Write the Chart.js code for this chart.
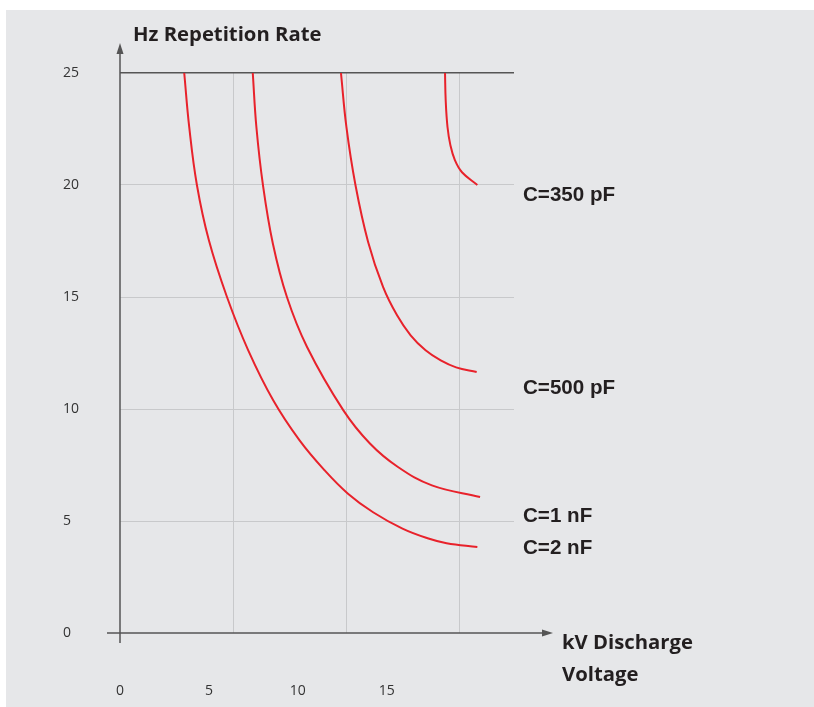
<!DOCTYPE html>
<html lang="en">
<head>
    <meta charset="UTF-8">
    <title>Repetition Rate vs Discharge Voltage</title>
    <script src="https://cdn.jsdelivr.net/npm/chart.js"></script>
    <style>
        body {
            margin: 0;
            background: #fff;
        }

        canvas {
            display: block;
        }
    </style>
</head>
<body>

    <canvas id="grafico" width="814" height="707"></canvas>

    <script>
        // curves (kV, Hz)
        const kv350 = [14.37, 14.40, 14.48, 14.61, 14.81, 15.12, 15.80];
        const hz350 = [25, 23.78, 22.59, 21.77, 21.10, 20.57, 20.0];

        const kv500 = [9.77, 10.01, 10.41, 10.97, 11.63, 12.25, 12.85, 13.51, 14.18, 14.86, 15.77];
        const hz500 = [25, 22.59, 20.0, 17.46, 15.45, 14.18, 13.29, 12.62, 12.17, 11.86, 11.65];

        const kv1n = [5.87, 6.03, 6.32, 6.76, 7.38, 8.27, 9.87, 11.05, 12.29, 13.79, 15.92];
        const hz1n = [25, 22.59, 20.0, 17.38, 15.0, 12.77, 9.95, 8.46, 7.41, 6.59, 6.07];

        const kv2n = [2.84, 3.06, 3.40, 3.93, 4.73, 5.67, 6.78, 7.94, 9.05, 10.08, 11.19, 12.49, 13.60, 14.44, 15.80];
        const hz2n = [25, 22.59, 20.0, 17.53, 15.0, 12.62, 10.38, 8.60, 7.26, 6.22, 5.39, 4.66, 4.23, 4.01, 3.84];

        const curveNames = ["C=350 pF", "C=500 pF", "C=1 nF", "C=2 nF"];
        const labelRates = [19.54, 10.92, 5.21, 3.78];
        const gridVolts = [0, 5, 10, 15];
        const bottomTickLabels = [0, 5, 10, 15];

        const yTitle = "Hz Repetition Rate";
        const xTitle = ["kV Discharge", "Voltage"];

        const vermelho = "#e8222b";
        const eixo = "#555";

        function serie(xs, ys) {
            return xs.map((x, i) => ({ x: x, y: ys[i] }));
        }

        const fundo = {
            id: "fundo",
            beforeDraw(chart) {
                const c = chart.ctx;
                c.save();
                c.fillStyle = "#fff";
                c.fillRect(0, 0, chart.width, chart.height);
                c.fillStyle = "#e6e7e9";
                c.fillRect(6, 10, chart.width - 6, chart.height - 10);
                c.restore();
            }
        };

        const eixosETextos = {
            id: "eixosETextos",
            afterDraw(chart) {
                const c = chart.ctx;
                const area = chart.chartArea;
                const x0 = chart.scales.x.getPixelForValue(0);
                const y0 = chart.scales.y.getPixelForValue(0);

                c.save();
                c.strokeStyle = eixo;
                c.fillStyle = eixo;
                c.lineWidth = 1.5;

                // x axis with arrow
                c.beginPath();
                c.moveTo(area.left - 13, y0);
                c.lineTo(545, y0);
                c.stroke();
                c.beginPath();
                c.moveTo(553, y0);
                c.lineTo(542, y0 - 3.5);
                c.lineTo(542, y0 + 3.5);
                c.closePath();
                c.fill();

                // y axis with arrow
                c.beginPath();
                c.moveTo(x0, area.bottom + 10);
                c.lineTo(x0, 53);
                c.stroke();
                c.beginPath();
                c.moveTo(x0, 43);
                c.lineTo(x0 - 3.5, 54);
                c.lineTo(x0 + 3.5, 54);
                c.closePath();
                c.fill();

                c.fillStyle = "#231f20";
                c.textBaseline = "middle";
                c.textAlign = "left";
                c.font = "bold 20.3px 'Open Sans'";
                c.fillText(yTitle, 133, 35);
                c.fillText(xTitle[0], 562, 643);
                c.fillText(xTitle[1], 562, 675);

                c.font = "bold 20.6px 'Liberation Sans'";
                curveNames.forEach((nome, i) => {
                    c.fillText(nome, area.right + 9, chart.scales.y.getPixelForValue(labelRates[i]));
                });
                c.restore();
            }
        };

        const corLinha = { borderColor: vermelho, borderWidth: 2, pointRadius: 0, showLine: true, tension: 0.4 };

        new Chart(document.getElementById("grafico"), {
            type: "scatter",
            data: {
                datasets: [
                    Object.assign({ label: curveNames[0], data: serie(kv350, hz350) }, corLinha),
                    Object.assign({ label: curveNames[1], data: serie(kv500, hz500) }, corLinha),
                    Object.assign({ label: curveNames[2], data: serie(kv1n, hz1n) }, corLinha),
                    Object.assign({ label: curveNames[3], data: serie(kv2n, hz2n) }, corLinha)
                ]
            },
            options: {
                responsive: false,
                animation: false,
                layout: { padding: { left: 63, top: 73, right: 300, bottom: 0 } },
                plugins: {
                    legend: { display: false },
                    tooltip: { enabled: false }
                },
                scales: {
                    x: {
                        type: "linear",
                        position: "bottom",
                        min: 0,
                        max: 17.42,
                        afterBuildTicks: s => {
                            s.ticks = gridVolts.map(v => ({ value: v }));
                        },
                        ticks: { display: false },
                        grid: {
                            drawTicks: false,
                            color: ctx => ctx.tick && ctx.tick.value === 0 ? "rgba(0,0,0,0)" : "#c8c9cb",
                            lineWidth: 1
                        },
                        border: { display: false },
                        afterFit: s => { s.height = 0; }
                    },
                    x2: {
                        type: "linear",
                        position: "bottom",
                        min: 0,
                        max: 22.16,
                        afterBuildTicks: s => {
                            s.ticks = bottomTickLabels.map(v => ({ value: v }));
                        },
                        ticks: {
                            padding: 42,
                            color: "#333",
                            font: { family: "'Open Sans'", size: 14 },
                            maxRotation: 0
                        },
                        grid: { display: false },
                        border: { display: false },
                        afterFit: s => { s.height = 74; }
                    },
                    y: {
                        min: 0,
                        max: 25,
                        ticks: {
                            stepSize: 5,
                            crossAlign: "far",
                            color: "#333",
                            font: { family: "'Open Sans'", size: 14 }
                        },
                        grid: {
                            drawTicks: false,
                            color: ctx => {
                                const v = ctx.tick ? ctx.tick.value : null;
                                if (v === 0) return "rgba(0,0,0,0)";
                                if (v === 25) return eixo;
                                return "#c8c9cb";
                            },
                            lineWidth: ctx => ctx.tick && ctx.tick.value === 25 ? 1.5 : 1
                        },
                        border: { display: false },
                        afterFit: s => { s.width = 57; }
                    }
                }
            },
            plugins: [fundo, eixosETextos]
        });
    </script>

</body>
</html>
